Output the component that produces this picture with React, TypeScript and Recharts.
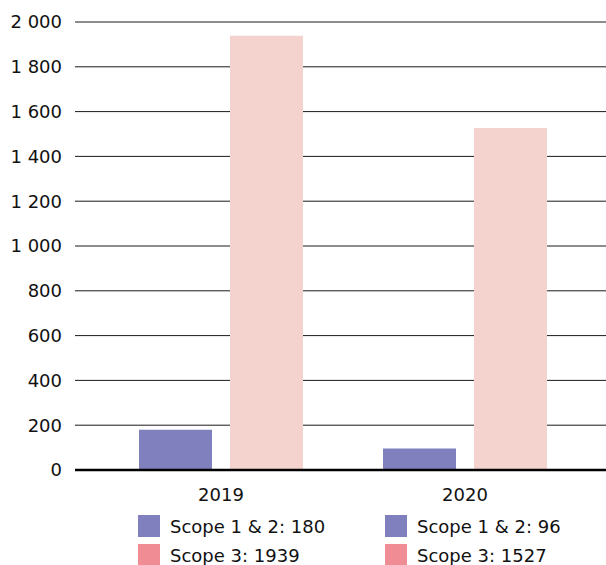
import { BarChart, Bar, XAxis, YAxis, CartesianGrid } from 'recharts'

const years = ['2019', '2020']
const scope12 = [180, 96]
const scope3 = [1939, 1527]
const yTicks = [0, 200, 400, 600, 800, 1000, 1200, 1400, 1600, 1800, 2000]

const COLORS = {
  scope12: '#7f80bd',
  scope3: '#f4d3cf',
  scope3Legend: '#f08c93',
}

const FONT = '"DejaVu Sans", sans-serif'

const fmt = (v: number) => String(v).replace(/\B(?=(\d{3})+(?!\d))/g, ' ')

const chartData = years.map((y, i) => ({
  name: y,
  scope12: scope12[i],
  scope3: scope3[i],
}))

function LegendBlock() {
  const cols = years.map((y, i) => ({ x: i === 0 ? 138 : 385, i }))
  return (
    <>
      {cols.map(({ x, i }) => (
        <div key={i} style={{ position: 'absolute', left: x, top: 515, fontFamily: FONT, fontSize: 18, color: '#111' }}>
          {[
            { c: COLORS.scope12, t: `Scope 1 & 2: ${scope12[i]}` },
            { c: COLORS.scope3Legend, t: `Scope 3: ${scope3[i]}` },
          ].map((it, k) => (
            <div key={k} style={{ display: 'flex', alignItems: 'center', height: 22, marginBottom: 7 }}>
              <div style={{ width: 22, height: 22, background: it.c, marginRight: 10 }} />
              <span style={{ whiteSpace: 'nowrap' }}>{it.t}</span>
            </div>
          ))}
        </div>
      ))}
    </>
  )
}

export default function App() {
  return (
    <div style={{ position: 'absolute', left: 0, top: 0, width: 606, height: 565, overflow: 'hidden', background: '#fff' }}>
      <BarChart
        width={606}
        height={565}
        data={chartData}
        margin={{ top: 22, right: 0, left: 0, bottom: 0 }}
        barCategoryGap={40}
        barGap={18}
      >
        <CartesianGrid vertical={false} stroke="#1a1a1a" strokeWidth={1} />
        <XAxis
          dataKey="name"
          height={95}
          padding={{ left: 24, right: 19 }}
          axisLine={{ stroke: '#000', strokeWidth: 2.5 }}
          tickLine={false}
          tickMargin={12}
          tick={{ fill: '#111', fontSize: 18, fontFamily: FONT }}
        />
        <YAxis
          width={75}
          domain={[0, 2000]}
          ticks={yTicks}
          interval={0}
          axisLine={false}
          tickLine={false}
          tickMargin={7}
          tickFormatter={fmt}
          tick={{ fill: '#111', fontSize: 18, fontFamily: FONT }}
        />
        <Bar dataKey="scope12" fill={COLORS.scope12} isAnimationActive={false} />
        <Bar dataKey="scope3" fill={COLORS.scope3} isAnimationActive={false} />
      </BarChart>
      <LegendBlock />
    </div>
  )
}
